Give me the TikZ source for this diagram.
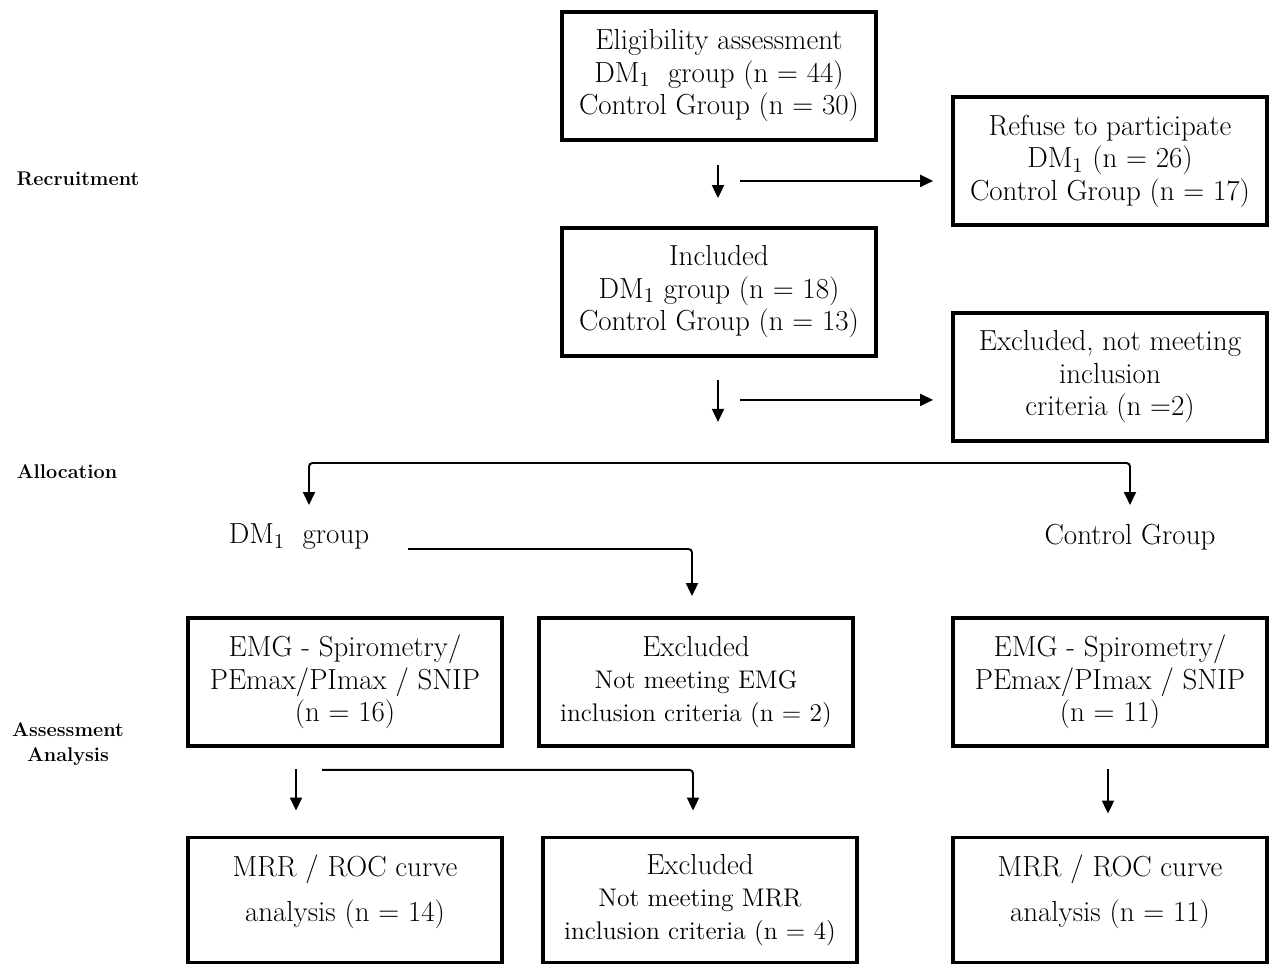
\documentclass[tikz,border=0pt]{standalone}
\usetikzlibrary{arrows.meta, calc}
\tikzset{
  >={Triangle[length=2.6mm,width=2.4mm]},
  boxnode/.style={draw, line width=2.2pt, minimum width=6.28cm,
    minimum height=2.56cm, align=center, inner sep=2pt,
    font=\fontsize{16.5}{18.5}\selectfont},
  lowbox/.style={boxnode, minimum height=2.5cm},
  stage/.style={font=\bfseries\fontsize{11.3}{14}\selectfont, align=center},
  glabel/.style={font=\fontsize{16.5}{18}\selectfont, inner sep=1pt},
  flow/.style={->, line width=1.1pt, rounded corners=2pt},
}
\newcommand{\smtxt}{\fontsize{14.5}{17.5}\selectfont}

\begin{document}
\begin{tikzpicture}[x=0.02cm, y=-0.02cm]
  \useasboundingbox (0,0) rectangle (1275,966);

  % ---- stage labels on the left -------------------------------------------
  \node[stage] (recr)  at (78,179)  {Recruitment};
  \node[stage] (alloc) at (67,472)  {Allocation};
  \node[stage] (asses) at (68,744)  {Assessment\\Analysis};

  % ---- recruitment ----------------------------------------------------------
  \node[boxnode] (elig)   at (719,76)   {Eligibility assessment\\DM$_1$\ \ group (n = 44)\\Control Group (n = 30)};
  \node[boxnode] (refuse) at (1110,161) {Refuse to participate\\DM$_1$ (n = 26)\\Control Group (n = 17)};
  \node[boxnode] (incl)   at (719,292)  {Included\\DM$_1$ group (n = 18)\\Control Group (n = 13)};
  \node[boxnode] (excl)   at (1110,377) {Excluded, not meeting\\inclusion\\criteria (n =2)};

  \coordinate (outA) at ($(elig.south)+(21,39)$);
  \coordinate (outB) at ($(incl.south)+(21,42)$);
  \draw[flow] ($(elig.south)+(-1,23)$) -- ($(incl.north)+(-1,-28)$);
  \draw[flow] (outA) -- ($(outA -| refuse.west)+(-18,0)$);
  \draw[flow] ($(incl.south)+(-1,22)$) -- ($(incl.south)+(-1,64)$);
  \draw[flow] (outB) -- ($(outB -| excl.west)+(-18,0)$);

  % ---- allocation -----------------------------------------------------------
  \node[glabel] (dmg)  at (299,537)  {DM$_1$\ \ group};
  \node[glabel] (ctrl) at (1130,537) {Control Group};

  \coordinate (allocL) at (309,463);
  \coordinate (allocR) at (1130,463);
  \draw[flow, <->] ($(allocL)+(0,42)$) -- (allocL) -- (allocR) -- ++(0,42);

  % ---- assessment -----------------------------------------------------------
  \node[boxnode] (emgA)  at (345,682)  {EMG - Spirometry/\\PEmax/PImax / SNIP\\(n = 16)};
  \node[boxnode] (exEMG) at (696,682)  {Excluded\\{\smtxt Not meeting EMG}\\{\smtxt inclusion criteria (n = 2)}};
  \node[boxnode] (emgB)  at (1110,682) {EMG - Spirometry/\\PEmax/PImax / SNIP\\(n = 11)};

  \coordinate (dmgOut) at (408,549);
  \draw[flow] (dmgOut) -| ($(exEMG.north)+(-4,-20)$);

  \node[lowbox] (mrrA)  at (345,900)  {MRR / ROC curve\\[7pt]analysis (n = 14)\\[-5pt]\mbox{}};
  \node[lowbox] (exMRR) at (700,900)  {Excluded\\{\smtxt Not meeting MRR}\\{\smtxt inclusion criteria (n = 4)}};
  \node[lowbox] (mrrB)  at (1110,900) {MRR / ROC curve\\[7pt]analysis (n = 11)\\[-5pt]\mbox{}};

  \draw[flow] ($(emgA.south)+(-49,21)$) -- ($(mrrA.north)+(-49,-25)$);
  \draw[flow] ($(emgA.south)+(-23,22)$) -| ($(exMRR.north)+(-7,-25)$);
  \draw[flow] ($(emgB.south)+(-2,21)$) -- ($(mrrB.north)+(-2,-22)$);

\end{tikzpicture}
\end{document}
